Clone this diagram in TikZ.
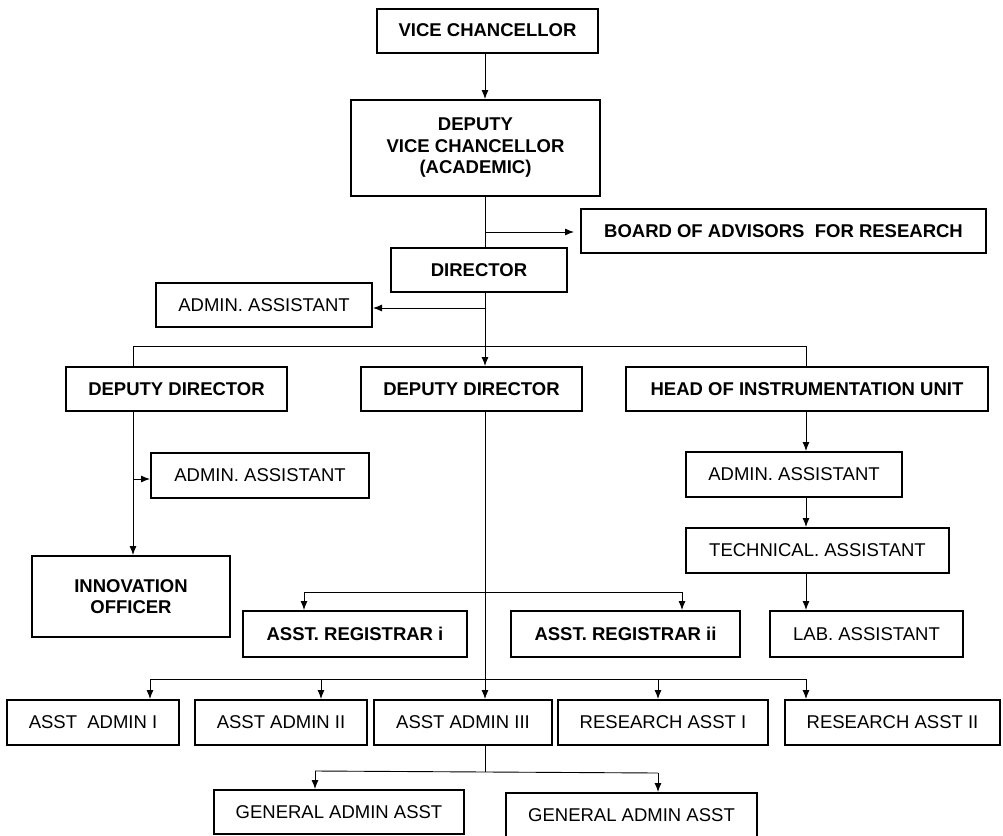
\documentclass[tikz,border=0pt]{standalone}
\usepackage{fontspec}
\setmainfont{Liberation Sans}
\usepackage{tikz}
\usetikzlibrary{arrows.meta}
\definecolor{cInk}{HTML}{000000}
\tikzset{
  obox/.style={draw=cInk,line width=2pt,minimum width=#1,minimum height=44pt,inner sep=0pt,align=center,text=cInk,font=\fontsize{18.5}{21.5}\selectfont\bfseries},
  pbox/.style={obox=#1,font=\fontsize{18.5}{21.5}\selectfont},
  arr/.style={-{Latex[length=9pt,width=7pt]},line width=0.9pt,color=cInk},
  ln/.style={line width=0.9pt,color=cInk},
}

\begin{document}
\begin{tikzpicture}[x=1pt,y=-1pt]
  \useasboundingbox (0,0) rectangle (1003,835);
  % trunk and branch lines
  \coordinate (t) at (485,0);
  \coordinate (l) at (133,0);
  \coordinate (r) at (806,0);
  % top of the chart
  \node[obox=221pt] (vc) at (487.5,30.5) {VICE CHANCELLOR};
  \node[obox=249pt,minimum height=96pt] (dvc) at (475.5,148) {DEPUTY\\VICE CHANCELLOR\\(ACADEMIC)};
  \node[obox=405pt] (board) at (783.5,231) {BOARD OF ADVISORS\ \ FOR RESEARCH};
  \node[obox=176pt] (dir) at (479,270) {DIRECTOR};
  \node[pbox=216pt] (adm1) at (264,305) {ADMIN. ASSISTANT};
  % deputies
  \node[obox=221pt] (dd1) at (176.5,389) {DEPUTY DIRECTOR};
  \node[obox=221pt] (dd2) at (471.5,389) {DEPUTY DIRECTOR};
  \node[obox=362pt] (head) at (807,389) {HEAD OF INSTRUMENTATION UNIT};
  \node[pbox=218pt,minimum height=45pt] (adm2) at (260,475.5) {ADMIN. ASSISTANT};
  \node[pbox=216pt,minimum height=45pt] (adm3) at (794,474.5) {ADMIN. ASSISTANT};
  \node[pbox=263pt,minimum height=45pt] (tech) at (817.5,550.5) {TECHNICAL. ASSISTANT};
  \node[obox=198pt,minimum height=81pt] (innov) at (131,596.5) {INNOVATION\\OFFICER};
  \node[obox=224pt,minimum height=46pt] (reg1) at (355,634) {ASST. REGISTRAR i};
  \node[obox=229pt,minimum height=46pt] (reg2) at (625.5,634) {ASST. REGISTRAR ii};
  \node[pbox=193pt,minimum height=46pt] (lab) at (866.5,634) {LAB. ASSISTANT};
  % bottom rows
  \node[pbox=172pt,minimum height=45pt] (aa1) at (93,722.5) {ASST\ \ ADMIN I};
  \node[pbox=172pt,minimum height=45pt] (aa2) at (281,722.5) {ASST ADMIN II};
  \node[pbox=178pt,minimum height=45pt] (aa3) at (463,722.5) {ASST ADMIN III};
  \node[pbox=210pt,minimum height=45pt] (ra1) at (663,722.5) {RESEARCH ASST I};
  \node[pbox=215pt,minimum height=45pt] (ra2) at (892.5,722.5) {RESEARCH ASST II};
  \node[pbox=250pt] (gen1) at (339,812) {GENERAL ADMIN ASST};
  \node[pbox=251pt] (gen2) at (631.5,815) {GENERAL ADMIN ASST};

  % connectors
  \draw[arr] (vc.south -| t) -- (dvc.north -| t);
  \draw[ln] (dvc.south -| t) -- (dir.north -| t);
  \coordinate (bj) at (485,232);
  \draw[arr,shorten >=6pt] (bj) -- (bj -| board.west);
  \draw[arr] (dir.south -| t) -- (dd2.north -| t);
  \coordinate (aj) at (485,308);
  \draw[arr] (aj) -- (aj -| adm1.east);
  \coordinate (bar) at (0,346);
  \draw[ln] (dd1.north -| l) -- (bar -| l) -- (bar -| r) -- (head.north -| r);
  \draw[arr] (dd1.south -| l) -- (innov.north -| l);
  \coordinate (a2j) at (133,479);
  \draw[arr] (a2j) -- (a2j -| adm2.west);
  \draw[arr] (head.south -| r) -- (adm3.north -| r);
  \draw[arr] (adm3.south -| r) -- (tech.north -| r);
  \draw[arr] (tech.south -| r) -- (lab.north -| r);
  \draw[arr] (dd2.south -| t) -- (aa3.north -| t);
  \coordinate (r1) at (304,592);
  \coordinate (r2) at (682,592);
  \draw[ln] (r1) -- (r2);
  \draw[arr] (r1) -- (r1 |- reg1.north);
  \draw[arr] (r2) -- (r2 |- reg2.north);
  \coordinate (b1) at (150,679);
  \coordinate (b2) at (321,679);
  \coordinate (b4) at (658,679);
  \coordinate (b5) at (806,679);
  \draw[ln] (b1) -- (b5);
  \draw[arr] (b1) -- (b1 |- aa1.north);
  \draw[arr] (b2) -- (b2 |- aa2.north);
  \draw[arr] (b4) -- (b4 |- ra1.north);
  \draw[arr] (b5) -- (b5 |- ra2.north);
  \coordinate (gj) at (485,772);
  \coordinate (g1) at (315,771);
  \coordinate (g2) at (658,773);
  \draw[ln] (aa3.south -| t) -- (gj);
  \draw[ln] (g1) -- (g2);
  \draw[arr] (g1) -- (g1 |- gen1.north);
  \draw[arr] (g2) -- (g2 |- gen2.north);
\end{tikzpicture}
\end{document}
